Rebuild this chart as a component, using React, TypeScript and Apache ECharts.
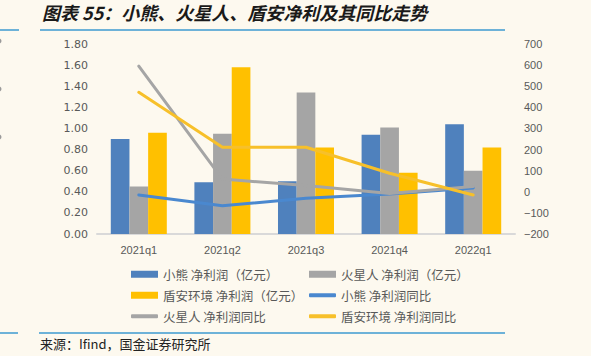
import React, { useEffect, useRef } from "react";
import * as echarts from "echarts";

const categories = ["2021q1", "2021q2", "2021q3", "2021q4", "2022q1"];
const xxProfit = [0.9, 0.49, 0.5, 0.94, 1.04];
const hxrProfit = [0.45, 0.95, 1.34, 1.01, 0.6];
const daProfit = [0.96, 1.58, 0.82, 0.58, 0.82];
const xxYoy = [-15, -66, -31, -10, 18];
const hxrYoy = [595, 60, 30, -8, 25];
const daYoy = [471, 211, 211, 88, -15];

const names = [
  "小熊 净利润（亿元）",
  "火星人 净利润（亿元）",
  "盾安环境 净利润（亿元）",
  "小熊 净利润同比",
  "火星人 净利润同比",
  "盾安环境 净利润同比",
];

const BLUE = "#4F81BD";
const GRAY = "#A5A5A5";
const YELLOW = "#FFC000";
const LBLUE = "#4A88CF";
const LYELLOW = "#F7C02A";
const RULE = "#3D9AD1";

export default function App() {
  const ref = useRef<HTMLDivElement>(null);
  useEffect(() => {
    if (!ref.current) return;
    const chart = echarts.init(ref.current, null, { renderer: "svg" });
    const legendPos = [
      [131, 268, true],
      [309, 268, true],
      [131, 289, true],
      [309, 289, false],
      [131, 310, false],
      [309, 310, false],
    ];
    const legends = names.map((n, i) => {
      const [left, top, isBar] = legendPos[i] as [number, number, boolean];
      return {
        left,
        top,
        data: [n],
        icon: isBar ? "rect" : "roundRect",
        itemWidth: 27,
        itemHeight: isBar ? 7 : 4,
        itemGap: 4,
        padding: 0,
        selectedMode: false,
        textStyle: {
          fontSize: 12.5,
          color: "#595959",
          fontFamily: "Noto Sans CJK SC",
        },
      };
    });
    const axisLabelBase = { color: "#595959", fontSize: 11 };
    chart.setOption({
      animation: false,
      backgroundColor: "#FDF9EF",
      grid: { left: 97, right: 76, top: 44, bottom: 122, containLabel: false },
      legend: legends,
      xAxis: {
        type: "category",
        data: categories,
        axisTick: { show: false },
        axisLine: { lineStyle: { color: "#D9D9D9", width: 2 } },
        axisLabel: {
          ...axisLabelBase,
          fontFamily: "Liberation Sans",
          margin: 10,
        },
      },
      yAxis: [
        {
          type: "value",
          min: 0,
          max: 1.8,
          interval: 0.2,
          splitLine: { show: false },
          axisLine: { show: false },
          axisTick: { show: false },
          axisLabel: {
            ...axisLabelBase,
            fontFamily: "DejaVu Sans",
            margin: 9,
            formatter: (v: number) => v.toFixed(2),
          },
        },
        {
          type: "value",
          min: -200,
          max: 700,
          interval: 100,
          splitLine: { show: false },
          axisLine: { show: false },
          axisTick: { show: false },
          axisLabel: {
            ...axisLabelBase,
            fontFamily: "Liberation Sans",
            margin: 9,
            formatter: (v: number) => (v < 0 ? "\u2212" + Math.abs(v) : String(v)),
          },
        },
      ],
      series: [
        {
          name: names[0],
          type: "bar",
          data: xxProfit,
          itemStyle: { color: BLUE },
          barGap: "0%",
          barCategoryGap: "33%",
        },
        {
          name: names[1],
          type: "bar",
          data: hxrProfit,
          itemStyle: { color: GRAY },
          barGap: "0%",
          barCategoryGap: "33%",
        },
        {
          name: names[2],
          type: "bar",
          data: daProfit,
          itemStyle: { color: YELLOW },
          barGap: "0%",
          barCategoryGap: "33%",
        },
        {
          name: names[3],
          type: "line",
          yAxisIndex: 1,
          data: xxYoy,
          symbol: "none",
          itemStyle: { color: LBLUE },
          lineStyle: { color: LBLUE, width: 3, cap: "round", join: "round" },
        },
        {
          name: names[4],
          type: "line",
          yAxisIndex: 1,
          data: hxrYoy,
          symbol: "none",
          itemStyle: { color: GRAY },
          lineStyle: { color: GRAY, width: 3, cap: "round", join: "round" },
        },
        {
          name: names[5],
          type: "line",
          yAxisIndex: 1,
          data: daYoy,
          symbol: "none",
          itemStyle: { color: LYELLOW },
          lineStyle: { color: LYELLOW, width: 3, cap: "round", join: "round" },
        },
      ],
      graphic: [
        {
          type: "text",
          left: 42,
          top: 3,
          style: {
            text: "图表 55：小熊、火星人、盾安净利及其同比走势",
            fontSize: 18,
            fontStyle: "italic",
            fontWeight: "bold",
            fontFamily: "Noto Sans CJK SC",
            fill: "#1a1a1a",
          },
        },
        { type: "line", shape: { x1: 0, y1: 30, x2: 19, y2: 30 }, style: { stroke: RULE, lineWidth: 1.5 } },
        { type: "line", shape: { x1: 40, y1: 30, x2: 505, y2: 30 }, style: { stroke: RULE, lineWidth: 1.5 } },
        { type: "line", shape: { x1: 0, y1: 333, x2: 18, y2: 333 }, style: { stroke: RULE, lineWidth: 1.5 } },
        { type: "line", shape: { x1: 39, y1: 333, x2: 505, y2: 333 }, style: { stroke: RULE, lineWidth: 1.5 } },
        { type: "circle", shape: { cx: -1, cy: 41, r: 2.5 }, style: { fill: "#9a9a9a" } },
        { type: "circle", shape: { cx: -1, cy: 89, r: 2.5 }, style: { fill: "#9a9a9a" } },
        { type: "circle", shape: { cx: -1, cy: 137, r: 2.5 }, style: { fill: "#9a9a9a" } },
        {
          type: "text",
          left: 40,
          top: 337,
          style: {
            text: "来源：Ifind，国金证券研究所",
            fontSize: 13,
            fontFamily: "Noto Sans CJK SC",
            fill: "#222222",
          },
        },
      ],
    });
    return () => chart.dispose();
  }, []);
  return (
    <div
      ref={ref}
      style={{ position: "fixed", left: 0, top: 0, width: 591, height: 356 }}
    />
  );
}
